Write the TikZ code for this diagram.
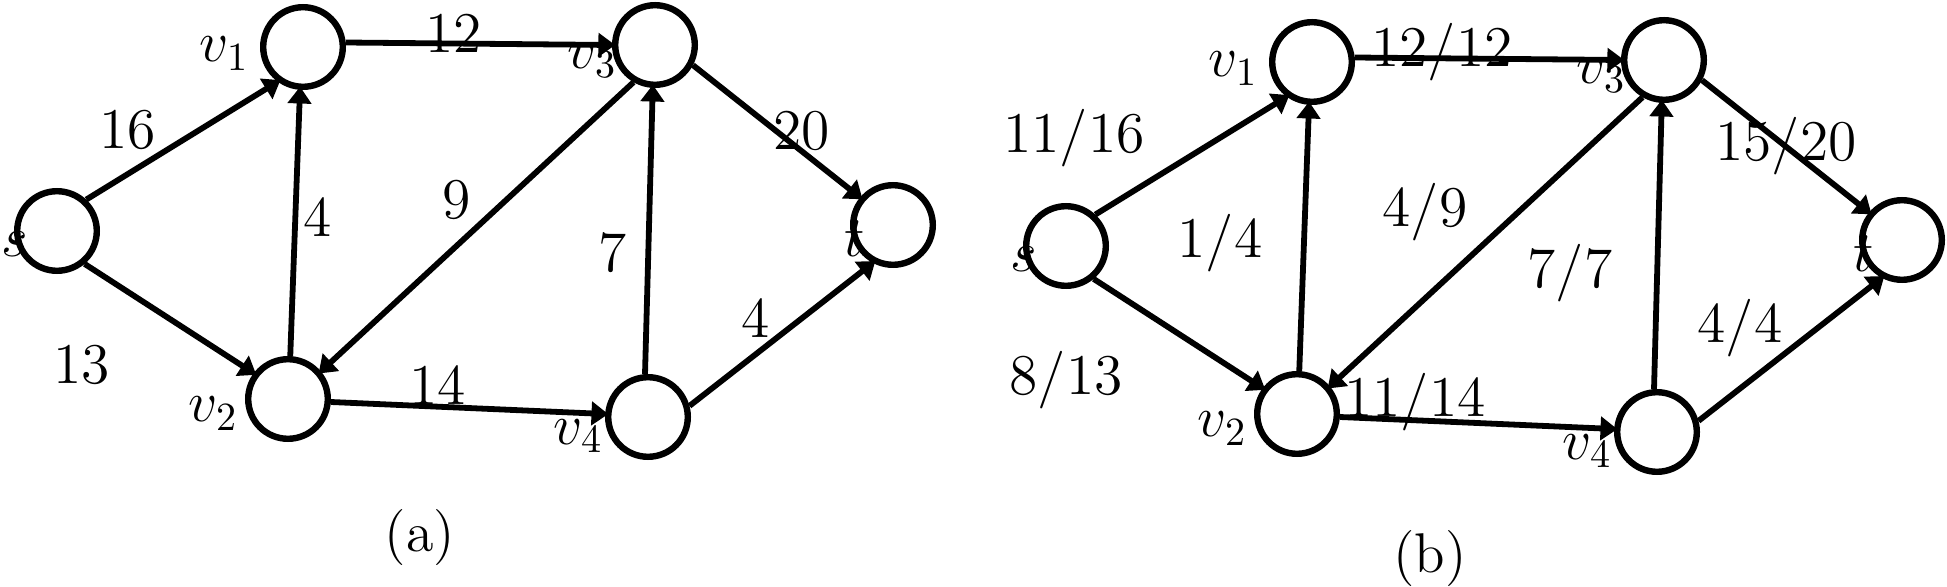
\documentclass[tikz,border=0pt]{standalone}
\usetikzlibrary{arrows.meta}
\begin{document}
\begin{tikzpicture}[x=0.25pt,y=-0.25pt,
  vtx/.style={circle,draw,line width=1.6pt,minimum size=19.9pt,inner sep=0pt},
  arc/.style={line width=1.45pt,shorten >=-0.8pt,-{Triangle[length=4.2pt,width=5.8pt]}},
  txt/.style={inner sep=0pt,anchor=base,font=\fontsize{14}{16}\selectfont},
  nlab/.style={inner sep=0pt,anchor=base west,font=\fontsize{14}{16}\selectfont}]
\useasboundingbox (0,0) rectangle (1947,587);

% ---------------- panel (a)
\node[vtx] (as)  at (57,231) {};
\node[vtx] (av1) at (303,47) {};
\node[vtx] (av3) at (655,45) {};
\node[vtx] (av2) at (288,399) {};
\node[vtx] (av4) at (648,417) {};
\node[vtx] (at)  at (893,225) {};

\draw[arc] (as.47)   -- (av1.234);
\draw[arc] (as.-50)  -- (av2.143);
\draw[arc] (av1.6)   -- (av3.180);
\draw[arc] (av2.87)  -- (av1.266);
\draw[arc] (av3.240) -- (av2.40);
\draw[arc] (av4.94)  -- (av3.267);
\draw[arc] (av2.-4)  -- (av4.176);
\draw[arc] (av3.-28) -- (at.140);
\draw[arc] (av4.15)  -- (at.242);

\node[txt]  (asl)  at (15,257)  {$s$};
\node[nlab] (av1l) at (199,62)  {$v_1$};
\node[nlab] (av3l) at (567,69)  {$v_3$};
\node[txt]  (atl)  at (855,257) {$t$};
\node[nlab] (av2l) at (188,422) {$v_2$};
\node[nlab] (av4l) at (553,444) {$v_4$};

\node[txt] (ae1) at (128,149) {$16$};
\node[txt] (ae2) at (82,383)  {$13$};
\node[txt] (ae3) at (454,53)  {$12$};
\node[txt] (ae4) at (318,237) {$4$};
\node[txt] (ae5) at (457,219) {$9$};
\node[txt] (ae6) at (613,272) {$7$};
\node[txt] (ae7) at (438,405) {$14$};
\node[txt] (ae8) at (802,150) {$20$};
\node[txt] (ae9) at (756,338) {$4$};
\node[txt] (acap) at (420,552) {(a)};

% ---------------- panel (b)
\node[vtx] (bs)  at (1066,246) {};
\node[vtx] (bv1) at (1312,62) {};
\node[vtx] (bv3) at (1664,60) {};
\node[vtx] (bv2) at (1297,414) {};
\node[vtx] (bv4) at (1657,432) {};
\node[vtx] (bt)  at (1902,240) {};

\draw[arc] (bs.47)   -- (bv1.234);
\draw[arc] (bs.-50)  -- (bv2.143);
\draw[arc] (bv1.6)   -- (bv3.180);
\draw[arc] (bv2.87)  -- (bv1.266);
\draw[arc] (bv3.240) -- (bv2.40);
\draw[arc] (bv4.94)  -- (bv3.267);
\draw[arc] (bv2.-4)  -- (bv4.176);
\draw[arc] (bv3.-28) -- (bt.140);
\draw[arc] (bv4.15)  -- (bt.242);

\node[txt]  (bsl)  at (1024,272) {$s$};
\node[nlab] (bv1l) at (1208,77)  {$v_1$};
\node[nlab] (bv3l) at (1576,84)  {$v_3$};
\node[txt]  (btl)  at (1864,272) {$t$};
\node[nlab] (bv2l) at (1197,437) {$v_2$};
\node[nlab] (bv4l) at (1562,459) {$v_4$};

\node[txt] (be1) at (1074,153) {$11/16$};
\node[txt] (be2) at (1066,395) {$8/13$};
\node[txt] (be3) at (1442,67)  {$12/12$};
\node[txt] (be4) at (1220,258) {$1/4$};
\node[txt] (be5) at (1425,227) {$4/9$};
\node[txt] (be6) at (1570,288) {$7/7$};
\node[txt] (be7) at (1415,417) {$11/14$};
\node[txt] (be8) at (1786,161) {$15/20$};
\node[txt] (be9) at (1740,343) {$4/4$};
\node[txt] (bcap) at (1430,572) {(b)};
\end{tikzpicture}
\end{document}
